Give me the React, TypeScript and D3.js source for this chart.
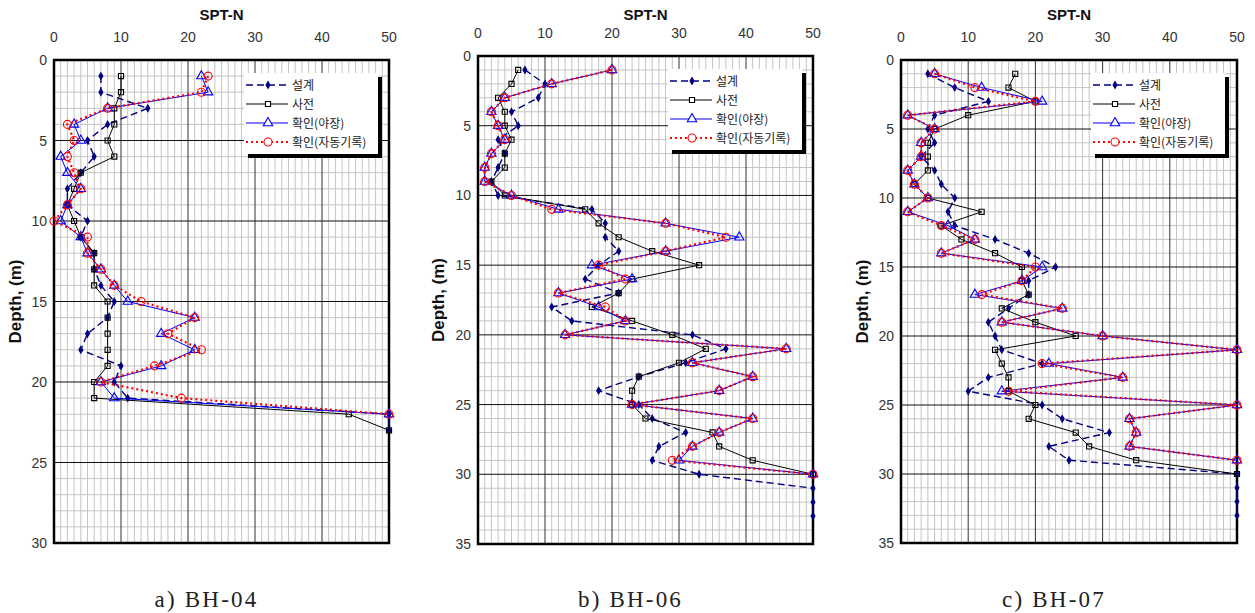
import * as d3 from "d3";
import React from "react";

// SPT-N by depth (m); depth list per borehole, values per series
const depthBH04 = [1, 2, 3, 4, 5, 6, 7, 8, 9, 10, 11, 12, 13, 14, 15, 16, 17, 18, 19, 20, 21, 22, 23];
const designBH04 = [7, 7, 14, 8, 5, 6, 4, 2, 2, 5, 4, 6, 6, 7, 9, 8, 5, 4, 10, 9, 11, 50, 50];
const preBH04 = [10, 10, 9, 9, 8, 9, 4, 3, 2, 3, 4, 6, 6, 6, 8, 8, 8, 8, 8, 6, 6, 44, 50];
const fieldBH04 = [22, 23, 8, 3, 4, 1, 2, 4, 2, 1, 4, 5, 7, 9, 11, 21, 16, 21, 16, 7, 9, 50];
const autoBH04 = [23, 22, 8, 2, 3, 2, 3, 4, 2, 0, 5, 5, 7, 9, 13, 21, 17, 22, 15, 7, 19, 50];

const depthBH06 = [1, 2, 3, 4, 5, 6, 7, 8, 9, 10, 11, 12, 13, 14, 15, 16, 17, 18, 19, 20, 21, 22, 23, 24, 25, 26, 27, 28, 29, 30, 31, 32, 33];
const designBH06 = [7, 10, 9, 5, 6, 3, 4, 3, 2, 3, 17, 19, 19, 21, 18, 16, 21, 11, 14, 32, 37, 31, 24, 18, 24, 26, 31, 27, 26, 33, 50, 50, 50];
const preBH06 = [6, 5, 3, 4, 4, 5, 4, 4, 2, 4, 16, 18, 21, 26, 33, 23, 21, 17, 23, 29, 34, 30, 24, 23, 23, 25, 35, 36, 41, 50];
const fieldBH06 = [20, 11, 4, 2, 3, 4, 2, 1, 1, 5, 12, 28, 39, 28, 17, 23, 12, 18, 22, 13, 46, 32, 41, 36, 23, 41, 36, 32, 30, 50];
const autoBH06 = [20, 11, 4, 2, 3, 4, 2, 1, 1, 5, 11, 28, 37, 28, 18, 22, 12, 19, 22, 13, 46, 32, 41, 36, 23, 41, 36, 32, 29, 50];

const depthBH07 = [1, 2, 3, 4, 5, 6, 7, 8, 9, 10, 11, 12, 13, 14, 15, 16, 17, 18, 19, 20, 21, 22, 23, 24, 25, 26, 27, 28, 29, 30, 31, 32, 33];
const designBH07 = [4, 8, 13, 5, 4, 5, 3, 5, 6, 8, 7, 8, 14, 19, 23, 19, 19, 16, 13, 14, 15, 21, 13, 10, 21, 24, 31, 22, 25, 50, 50, 50, 50];
const preBH07 = [17, 16, 20, 10, 5, 4, 4, 4, 2, 4, 12, 6, 9, 14, 18, 18, 19, 15, 20, 26, 14, 15, 16, 16, 20, 19, 26, 28, 35, 50];
const fieldBH07 = [5, 12, 21, 1, 5, 3, 3, 1, 2, 4, 1, 7, 11, 6, 21, 18, 11, 24, 15, 30, 50, 22, 33, 15, 50, 34, 35, 34, 50];
const autoBH07 = [5, 11, 20, 1, 5, 3, 3, 1, 2, 4, 1, 6, 11, 6, 20, 18, 12, 24, 15, 30, 50, 21, 33, 16, 50, 34, 35, 34, 50];

const seriesNames = ["설계", "사전", "확인(야장)", "확인(자동기록)"];
const captions = ["a) BH-04", "b) BH-06", "c) BH-07"];
const maxDepths = [30, 35, 35];
const nMax = 50;

const styles = [
  { color: "#000080", width: 1.4, dash: "7,4", symbol: d3.symbolDiamond, size: 13, fill: "#000080" },
  { color: "#000000", width: 1, dash: null, symbol: d3.symbolSquare, size: 26, fill: "none" },
  { color: "#0000ff", width: 1, dash: null, symbol: d3.symbolTriangle, size: 38, fill: "none" },
  { color: "#ff0000", width: 2.2, dash: "2,3", symbol: d3.symbolCircle, size: 50, fill: "none" },
];

const panels = [
  { left: 54, right: 389, top: 60, bottom: 543, labelX: 16, depth: depthBH04, series: [designBH04, preBH04, fieldBH04, autoBH04] },
  { left: 478, right: 813, top: 56, bottom: 544, labelX: 439, depth: depthBH06, series: [designBH06, preBH06, fieldBH06, autoBH06] },
  { left: 901, right: 1237, top: 60, bottom: 543, labelX: 863, depth: depthBH07, series: [designBH07, preBH07, fieldBH07, autoBH07] },
];

const tickFont = "'Liberation Sans', Arial, sans-serif";
const krFont = "'Noto Sans CJK KR', 'Noto Sans', sans-serif";

function Panel({ p, i }: { p: any; i: number }) {
  const x = d3.scaleLinear().domain([0, nMax]).range([p.left, p.right]);
  const y = d3.scaleLinear().domain([0, maxDepths[i]]).range([p.top, p.bottom]);
  const minorX = d3.range(1, nMax).filter((v) => v % 10 !== 0);
  const minorY = d3.range(1, maxDepths[i]).filter((v) => v % 5 !== 0);
  const majorX = x.ticks(5).filter((v) => v > 0 && v < nMax);
  const majorY = y.ticks(maxDepths[i] / 5).filter((v) => v > 0 && v < maxDepths[i]);
  const line = d3.line<[number, number]>().x((d) => x(d[0])).y((d) => y(d[1]));
  const midX = (p.left + p.right) / 2;
  const midY = (p.top + p.bottom) / 2;
  const lg = { x: p.left + 190, y: p.top + 13, w: 134, h: 81 };

  return (
    <g>
      <rect x={p.left} y={p.top} width={p.right - p.left} height={p.bottom - p.top} fill="#fff" />
      {minorX.map((v) => (
        <line key={"mx" + v} x1={x(v)} x2={x(v)} y1={p.top} y2={p.bottom} stroke="#c4c4c4" strokeWidth={1} />
      ))}
      {minorY.map((v) => (
        <line key={"my" + v} x1={p.left} x2={p.right} y1={y(v)} y2={y(v)} stroke="#c4c4c4" strokeWidth={1} />
      ))}
      {majorX.map((v) => (
        <line key={"Mx" + v} x1={x(v)} x2={x(v)} y1={p.top} y2={p.bottom} stroke="#333" strokeWidth={1} />
      ))}
      {majorY.map((v) => (
        <line key={"My" + v} x1={p.left} x2={p.right} y1={y(v)} y2={y(v)} stroke="#111" strokeWidth={1} />
      ))}
      <rect x={p.left} y={p.top} width={p.right - p.left} height={p.bottom - p.top} fill="none" stroke="#000" strokeWidth={2.5} />

      {x.ticks(5).map((v) => (
        <text key={"tx" + v} x={x(v)} y={p.top - 18} textAnchor="middle" fontFamily={tickFont} fontSize={14} fill="#333">
          {v}
        </text>
      ))}
      {y.ticks(maxDepths[i] / 5).map((v) => (
        <text key={"ty" + v} x={p.left - 7} y={y(v) + 5} textAnchor="end" fontFamily={tickFont} fontSize={14} fill="#333">
          {v}
        </text>
      ))}
      <text x={midX} y={20} textAnchor="middle" fontFamily={tickFont} fontSize={15} fontWeight="bold" fill="#111">
        SPT-N
      </text>
      <text
        transform={`translate(${p.labelX + 5},${midY}) rotate(-90)`}
        textAnchor="middle"
        fontFamily={tickFont}
        fontSize={17}
        fontWeight="bold"
        fill="#111"
      >
        Depth, (m)
      </text>

      {p.series.map((vals: number[], s: number) => {
        const st = styles[s];
        const pts: [number, number][] = vals.map((v, k) => [v, p.depth[k]]);
        const sym = d3.symbol().type(st.symbol).size(st.size);
        return (
          <g key={"s" + s}>
            <path d={line(pts) || ""} fill="none" stroke={st.color} strokeWidth={st.width} strokeDasharray={st.dash || undefined} />
            {pts.map((d, k) => (
              <path
                key={k}
                d={sym() || ""}
                transform={`translate(${x(d[0])},${y(d[1])})`}
                fill={st.fill}
                stroke={st.color}
                strokeWidth={1.1}
              />
            ))}
          </g>
        );
      })}

      <rect x={lg.x + 4} y={lg.y + 4} width={lg.w} height={lg.h} fill="#000" />
      <rect x={lg.x} y={lg.y} width={lg.w} height={lg.h} fill="#fff" />
      {seriesNames.map((name, s) => {
        const st = styles[s];
        const ry = lg.y + 12 + s * 19;
        const sym = d3.symbol().type(st.symbol).size(st.size);
        return (
          <g key={"lg" + s}>
            <line x1={lg.x + 2} x2={lg.x + 44} y1={ry} y2={ry} stroke={st.color} strokeWidth={st.width} strokeDasharray={st.dash || undefined} />
            <path d={sym() || ""} transform={`translate(${lg.x + 24},${ry})`} fill={st.fill === "none" ? "#fff" : st.fill} stroke={st.color} strokeWidth={1.1} />
            <text x={lg.x + 48} y={ry + 4.5} fontFamily={krFont} fontSize={12} fill="#222">
              {name}
            </text>
          </g>
        );
      })}

      <text x={midX - 15} y={607} textAnchor="middle" fontFamily="'Liberation Serif', 'DejaVu Serif', serif" fontSize={23} letterSpacing={2.2} fill="#222">
        {captions[i]}
      </text>
    </g>
  );
}

export default function App() {
  return (
    <svg width={1255} height={613} style={{ position: "absolute", left: 0, top: 0, background: "#fff" }}>
      <rect width={1255} height={613} fill="#fff" />
      {panels.map((p, i) => (
        <Panel key={i} p={p} i={i} />
      ))}
    </svg>
  );
}
